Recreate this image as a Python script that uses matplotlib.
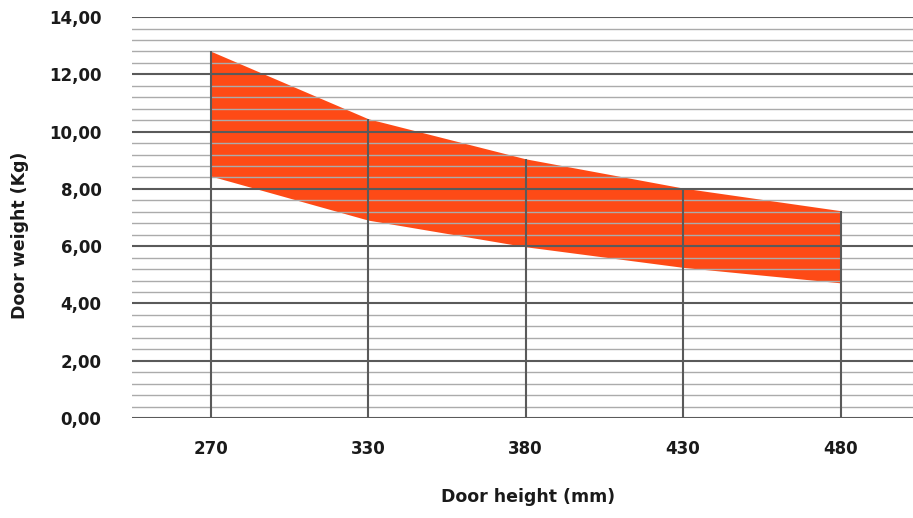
import matplotlib
matplotlib.use("Agg")
import matplotlib.pyplot as plt
import numpy as np
from matplotlib.ticker import MultipleLocator, FuncFormatter

categories = ["270", "330", "380", "430", "480"]
upper = [12.81, 10.45, 9.05, 8.03, 7.24]
lower = [8.45, 6.91, 5.98, 5.26, 4.72]

plt.rcParams['font.family'] = ['DejaVu Sans']
plt.rcParams['font.weight'] = 'bold'

fig = plt.figure(figsize=(9.13, 5.18), dpi=100)
ax = fig.add_axes([0.1446, 0.193, 1.0 - 0.1446, 0.967 - 0.193])

x = np.arange(len(categories))
ax.fill_between(x, lower, upper, color="#FE4A16", linewidth=0, zorder=1)
ax.vlines(x, 0, upper, colors="#5a5a5a", linewidth=1.5, zorder=3)

ax.set_ylim(0, 14)
ax.set_xlim(-0.5, 4.46)
ax.yaxis.set_major_locator(MultipleLocator(2))
ax.yaxis.set_minor_locator(MultipleLocator(0.4))
ax.yaxis.set_major_formatter(FuncFormatter(lambda v, p: f"{v:.2f}".replace(".", ",")))
ax.set_xticks(x)
ax.set_xticklabels(categories)

ax.set_axisbelow(False)
ax.grid(axis='y', which='major', color="#5a5a5a", linewidth=1.5, zorder=2.5)
ax.grid(axis='y', which='minor', color="#ababab", linewidth=1.0, zorder=2.5)
ax.grid(axis='x', visible=False)

for s in ax.spines.values():
    s.set_visible(False)
ax.tick_params(axis='both', which='both', length=0)
ax.tick_params(axis='y', labelsize=12, pad=22, labelcolor="#1a1a1a")
ax.tick_params(axis='x', labelsize=12, pad=16, labelcolor="#1a1a1a")
for lab in ax.get_xticklabels() + ax.get_yticklabels():
    lab.set_fontweight('bold')

fig.text(0.578, 0.04, "Door height (mm)", ha='center', va='center', fontsize=12.5, fontweight='bold', color="#1a1a1a")
fig.text(0.022, 0.546, "Door weight (Kg)", ha='center', va='center', rotation=90, fontsize=12.5, fontweight='bold', color="#1a1a1a")

fig.savefig("out.png", dpi=100)
